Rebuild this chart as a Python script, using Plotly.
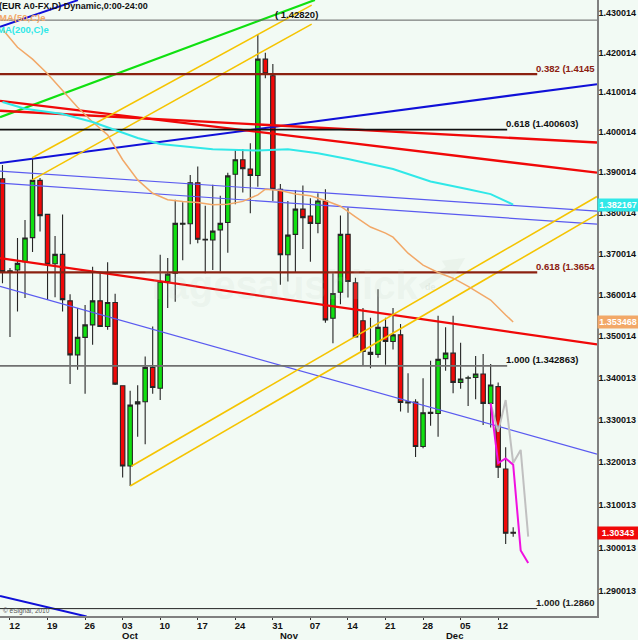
import numpy as np
import plotly.graph_objects as go

# daily EUR bars, one per trading day
bar_open = [1.3884,1.3654,1.3660,1.3680,1.3739,1.3880,1.3796,1.3675,1.3698,1.3585,1.3455,1.3497,1.3527,1.3585,1.3523,1.3581,1.3381,1.3191,1.3338,1.3343,1.3425,1.3375,1.3632,1.3652,1.3772,1.3773,1.3874,1.3733,1.3733,1.3758,1.3776,1.3895,1.3931,1.3908,1.3892,1.4183,1.4141,1.3858,1.3697,1.3747,1.3809,1.3792,1.3774,1.3829,1.3543,1.3606,1.3747,1.3629,1.3537,1.3461,1.3456,1.3521,1.3487,1.3503,1.3340,1.3342,1.3237,1.3315,1.3315,1.3446,1.3459,1.3389,1.3399,1.3401,1.3409,1.3339,1.3379,1.3184,1.3036]
bar_high = [1.3918,1.3665,1.3738,1.3782,1.3936,1.3886,1.3796,1.3743,1.3796,1.3601,1.3568,1.3575,1.3668,1.3655,1.3679,1.3602,1.3381,1.3369,1.3382,1.3451,1.3523,1.3697,1.3689,1.3832,1.3826,1.3893,1.3914,1.3817,1.3869,1.3842,1.3899,1.3955,1.3958,1.3972,1.4247,1.4199,1.4171,1.3871,1.3829,1.3856,1.3867,1.3836,1.3848,1.3858,1.3652,1.3793,1.3813,1.3641,1.3568,1.3544,1.3613,1.3544,1.3568,1.3529,1.3411,1.3349,1.3399,1.3441,1.3549,1.3521,1.3549,1.3484,1.3405,1.3452,1.3457,1.3433,1.3389,1.3235,1.3048]
bar_low = [1.3628,1.3498,1.3559,1.3592,1.3704,1.3754,1.3587,1.3594,1.3559,1.3385,1.3419,1.3362,1.3479,1.3523,1.3515,1.3383,1.3164,1.3144,1.3260,1.3242,1.3362,1.3347,1.3568,1.3583,1.3684,1.3723,1.3725,1.3652,1.3660,1.3656,1.3702,1.3821,1.3850,1.3799,1.3864,1.4135,1.3829,1.3624,1.3632,1.3654,1.3711,1.3680,1.3750,1.3532,1.3483,1.3577,1.3593,1.3498,1.3429,1.3423,1.3448,1.3431,1.3468,1.3320,1.3317,1.3212,1.3233,1.3286,1.3260,1.3417,1.3363,1.3374,1.3333,1.3349,1.3288,1.3282,1.3163,1.3009,1.3026]
bar_close = [1.3656,1.3658,1.3676,1.3738,1.3880,1.3793,1.3674,1.3698,1.3588,1.3455,1.3497,1.3527,1.3585,1.3523,1.3581,1.3385,1.3191,1.3335,1.3343,1.3425,1.3377,1.3632,1.3650,1.3774,1.3774,1.3874,1.3735,1.3735,1.3755,1.3774,1.3891,1.3931,1.3909,1.3892,1.4183,1.4146,1.3858,1.3697,1.3745,1.3809,1.3788,1.3774,1.3829,1.3539,1.3603,1.3747,1.3632,1.3498,1.3463,1.3456,1.3521,1.3487,1.3503,1.3341,1.3343,1.3237,1.3317,1.3318,1.3444,1.3459,1.3389,1.3397,1.3400,1.3409,1.3339,1.3383,1.3188,1.3034,1.3034]
bars = list(range(len(bar_open)))

# moving averages
ma50_x = [0,2,4,6,8,10,12,14,16,18,20,22,24,26,28,30,32,34,35,37,39,41,43,45,47,49,51,52,54,56,58,60,62,64,65,67,68]
ma50_y = [1.4259,1.4213,1.4183,1.4146,1.4104,1.4062,1.4025,1.3993,1.3931,1.3881,1.3848,1.3832,1.3828,1.3825,1.3820,1.3821,1.3828,1.3844,1.3858,1.3855,1.3846,1.3842,1.3830,1.3816,1.3790,1.3765,1.3750,1.3740,1.3701,1.3672,1.3654,1.3640,1.3620,1.3599,1.3587,1.3551,1.3534]
ma200_x = [0,3,8,12,15,18,21,24,28,34,38,42,46,52,57,62,65,68]
ma200_y = [1.4075,1.4058,1.4045,1.4025,1.4005,1.3985,1.3970,1.3965,1.3957,1.3954,1.3957,1.3947,1.3933,1.3908,1.3877,1.3858,1.3846,1.3820]

# projected paths
path_x = [65,66,67,68,69,70]
magenta_y = [1.3339,1.3198,1.3209,1.3194,1.2994,1.2965]
grey_y = [1.3339,1.3272,1.3347,1.3198,1.3229,1.3026]

# chart limits in bars and price
x_left, x_right = -0.33, 79.16
y_bottom, y_top = 1.28431, 1.43333

# trend lines: x pair, price pair, colour, width
trend_lines = [
    ([x_left,41.6], [1.4037,1.43333], "#10e010", 2.2),
    ([x_left,10.05], [1.4265,1.4333], "#1010d8", 2),
    ([x_left,x_right], [1.3923,1.4120], "#1010d8", 2),
    ([x_left,x_right], [1.4078,1.3899], "#f00808", 2.4),
    ([x_left,x_right], [1.4053,1.3974], "#f00808", 2.4),
    ([x_left,x_right], [1.3689,1.3480], "#f00808", 2.2),
    ([x_left,x_right], [1.3903,1.3804], "#5a5af0", 1.2),
    ([x_left,x_right], [1.3873,1.3772], "#5a5af0", 1.2),
    ([x_left,x_right], [1.3620,1.3219], "#5a5af0", 1.2),
    ([x_left,11.2], [1.2889,1.2842], "#1010d8", 2),
    ([3.97,41.17], [1.3936,1.4320], "#f5c400", 1.5),
    ([3.97,41.17], [1.3881,1.4272], "#f5c400", 1.5),
    ([17.2,x_right], [1.3191,1.3840], "#f5c400", 1.6),
    ([17.0,x_right], [1.3144,1.3796], "#f5c400", 1.6),
]

# fibonacci levels: price, right end, colour, width, label
fib_levels = [
    (1.4282, x_right, "#606060", 1, None),
    (1.4145, 71.2, "#8b2010", 2.2, "0.382 (1.4145"),
    (1.400603, 67.2, "#111111", 1.6, "0.618 (1.400603)"),
    (1.3654, 71.2, "#8b2010", 2.2, "0.618 (1.3654"),
    (1.342863, 67.2, "#707070", 1.8, "1.000 (1.342863)"),
    (1.2860, 71.2, "#222222", 1, "1.000 (1.2860"),
]

y_tick_vals = [1.430014,1.420014,1.410014,1.400014,1.390014,1.380014,1.370014,1.360014,1.350014,1.340013,1.330013,1.320013,1.310013,1.300013,1.290013]
x_tick_bars = [1,6,11,16,21,26,31,36,41,46,51,56,61,66]
x_tick_text = ["12","19","26","03","10","17","24","31","07","14","21","28","05","12"]
months = ["Oct","Nov","Dec"]
month_bars = [17.0,38.2,60.2]

bg = "#f2faf4"
font_name = "Liberation Sans"

fig = go.Figure()

for xs, ys, col, w in trend_lines:
    fig.add_trace(go.Scatter(x=xs, y=ys, mode="lines", line=dict(color=col, width=w), showlegend=False))

for price, end, col, w, label in fib_levels:
    fig.add_trace(go.Scatter(x=[x_left,end], y=[price,price], mode="lines", line=dict(color=col, width=w), showlegend=False))

fig.add_trace(go.Scatter(x=ma50_x, y=ma50_y, mode="lines", line=dict(color="#f2a868", width=1.5), showlegend=False))
fig.add_trace(go.Scatter(x=ma200_x, y=ma200_y, mode="lines", line=dict(color="#30e8e8", width=2), showlegend=False))
fig.add_trace(go.Scatter(x=path_x, y=grey_y, mode="lines", line=dict(color="#c0c0c0", width=2), showlegend=False))
fig.add_trace(go.Scatter(x=path_x, y=magenta_y, mode="lines", line=dict(color="#f010e0", width=2), showlegend=False))

fig.add_trace(go.Candlestick(
    x=bars, open=bar_open, high=bar_high, low=bar_low, close=bar_close,
    increasing=dict(fillcolor="#10e010", line=dict(color="#262626", width=1.1)),
    decreasing=dict(fillcolor="#f00808", line=dict(color="#262626", width=1.1)),
    whiskerwidth=0, showlegend=False,
))

def note(text, x, y, color="#111111", size=9.5, xanchor="left", yshift=0, xref="x", yref="y", **kw):
    fig.add_annotation(text="<b>" + text + "</b>", x=x, y=y, xref=xref, yref=yref, xanchor=xanchor,
                       yanchor="middle", showarrow=False, yshift=yshift,
                       font=dict(family=font_name, size=size, color=color), **kw)

# level labels, log axis so annotation y is log10
for price, end, col, w, label in fib_levels:
    if label:
        note(label, end, np.log10(price), color=col if col != "#707070" else "#111111", yshift=6, xshift=-3)
note("( 1.42820)", 42.3, np.log10(1.4282), xanchor="right", yshift=6)

# header texts
note("(EUR A0-FX,D) Dynamic,0:00-24:00", 0, 0.9903, size=9, xref="paper", yref="paper", xshift=-3)
note("MA(50,C)e", 0, 0.9708, color="#f2a868", xref="paper", yref="paper", xshift=-3)
note("MA(200,C)e", 0, 0.9513, color="#30e8e8", xref="paper", yref="paper", xshift=-5)

# value tags on the price axis
for val, col in [(ma200_y[-1],"#30e8e8"), (ma50_y[-1],"#f2a868"), (bar_close[-1],"#f00808")]:
    label = "1.30343" if val == bar_close[-1] else "%.6f" % (1.382167 if col == "#30e8e8" else 1.353468)
    fig.add_annotation(text="<b>" + label + "</b>", x=1, y=np.log10(val), xref="paper", yref="y", xanchor="left",
                       yanchor="middle", showarrow=False, bgcolor=col, width=40, height=12, borderpad=0,
                       font=dict(family=font_name, size=9, color="white"))

# months under the day labels
for m, b in zip(months, month_bars):
    fig.add_annotation(text="<b>" + m + "</b>", x=b, y=0, xref="x", yref="paper", yshift=-19, yanchor="middle",
                       showarrow=False, font=dict(family=font_name, size=9.5, color="#111111"))

# watermark and copyright
fig.add_annotation(text="<b>Tagesausblick</b>", x=37.1, y=np.log10(1.3624), xref="x", yref="y", showarrow=False,
                   font=dict(family=font_name, size=40, color="rgba(190,205,190,0.14)"))
fig.add_annotation(text="<b>de</b>", x=57, y=np.log10(1.3619), xref="x", yref="y", showarrow=False,
                   font=dict(family=font_name, size=9, color="rgba(190,205,190,0.3)"))
fig.add_annotation(text="", x=61.6, y=np.log10(1.3689), xref="x", yref="y", ax=-46, ay=30, showarrow=True,
                   arrowhead=2, arrowsize=0.7, arrowwidth=6, arrowcolor="rgba(190,205,190,0.15)")
fig.add_annotation(text="© eSignal, 2010", x=0, y=0.0085, xref="paper", yref="paper", xanchor="left", yanchor="middle",
                   xshift=1, showarrow=False, font=dict(family=font_name, size=6.5, color="#555555"))

fig.update_layout(
    width=638, height=640,
    margin=dict(l=0, r=41, t=0, b=24),
    paper_bgcolor=bg, plot_bgcolor=bg,
    showlegend=False,
    boxgap=0.15,
    xaxis=dict(
        range=[x_left, x_right], rangeslider=dict(visible=False), showgrid=False, zeroline=False, automargin=False,
        showline=True, linecolor="#808080", linewidth=1.5,
        tickmode="array", tickvals=[b + 0.62 for b in x_tick_bars], ticktext=["<b>" + t + "</b>" for t in x_tick_text],
        ticks="", tickfont=dict(family=font_name, size=9.5, color="#111111"),
        minor=dict(tickmode="array", tickvals=x_tick_bars, ticks="outside", ticklen=2, tickcolor="#333333", showgrid=False),
    ),
    yaxis=dict(
        type="log", side="right", range=[np.log10(y_bottom), np.log10(y_top)], showgrid=False, zeroline=False, automargin=False,
        showline=True, linecolor="#808080", linewidth=1.5,
        tickmode="array", tickvals=y_tick_vals, ticktext=["<b>%.6f</b>" % v for v in y_tick_vals],
        ticks="", ticklabelstandoff=-2, tickfont=dict(family=font_name, size=9, color="#111111"),
    ),
)

fig.write_html("out.html", config=dict(displayModeBar=False),
               post_script="document.body.style.margin='0';document.body.style.background='%s';" % bg)
